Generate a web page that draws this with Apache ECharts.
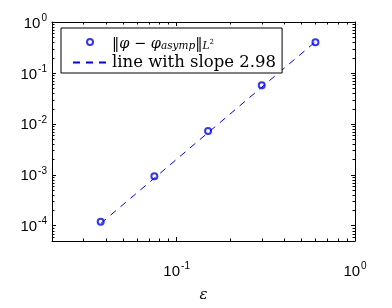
<!DOCTYPE html>
<html><head><meta charset="utf-8">
<script src="https://cdn.jsdelivr.net/npm/echarts@6/dist/echarts.min.js"></script>
<style>html,body{margin:0;padding:0;background:#fff}#c{width:392px;height:308px}</style>
</head><body><div id="c"></div>
<script>
// Data
var epsValues = [0.0375, 0.075, 0.15, 0.3, 0.6];
var errValues = [1.2e-4, 9.3e-4, 7.2e-3, 0.057, 0.40];
var fitX = [0.0375, 0.6];
var fitY = [1.1e-4, 0.41];
var xMinorTicks = [0.03,0.04,0.05,0.06,0.07,0.08,0.09,0.2,0.3,0.4,0.5,0.6,0.7,0.8,0.9];
var yMinorTicks = [6e-5,7e-5,8e-5,9e-5,2e-4,3e-4,4e-4,5e-4,6e-4,7e-4,8e-4,9e-4,2e-3,3e-3,4e-3,5e-3,6e-3,7e-3,8e-3,9e-3,
  0.02,0.03,0.04,0.05,0.06,0.07,0.08,0.09,0.2,0.3,0.4,0.5,0.6,0.7,0.8,0.9];
var legendLabels = {err: '{r|‖}{i|φ}{r| − }{i|φ}{sub|asymp}{r|‖}{sub|L}{sup|2}', fit: '{t|line with slope 2.98}'};

var chart = echarts.init(document.getElementById('c'), null, {renderer: 'canvas'});
var labelFont = "'Liberation Sans Narrow','Arial Narrow','Liberation Sans',Arial,sans-serif";
var serif = "'DejaVu Serif',serif";
function powLabel(v) {
  var e = Math.log10(v);
  var r = Math.round(e);
  if (Math.abs(e - r) > 1e-6) return '';
  return '{b|10}{s|' + r + '}';
}
var rich = {
  b: {fontFamily: labelFont, fontSize: 15, color: '#000', lineHeight: 18, verticalAlign: 'bottom'},
  s: {fontFamily: labelFont, fontSize: 10, color: '#000', lineHeight: 18, verticalAlign: 'top', padding: [0,0,0,1]}
};
var xMin = 0.02, xMax = 1, yMin = 5e-5, yMax = 1;
function baseX(pos, show) {
  return {type: 'log', logBase: 10, min: xMin, max: xMax, position: pos,
    axisLine: {show: true, onZero: false, lineStyle: {color: '#000', width: 1}},
    axisTick: {show: true, inside: true, length: 4, lineStyle: {color: '#000'}},
    axisLabel: {show: show, margin: 20, formatter: powLabel, rich: rich},
    splitLine: {show: false}, minorTick: {show: false}};
}
function baseY(pos, show) {
  return {type: 'log', logBase: 10, min: yMin, max: yMax, position: pos,
    axisLine: {show: true, onZero: false, lineStyle: {color: '#000', width: 1}},
    axisTick: {show: true, inside: true, length: 4, lineStyle: {color: '#000'}},
    axisLabel: {show: show, margin: 5, formatter: powLabel, rich: rich},
    splitLine: {show: false}, minorTick: {show: false}};
}
var xAx0 = baseX('bottom', true);
xAx0.name = 'ε'; xAx0.nameLocation = 'middle'; xAx0.nameGap = 47;
xAx0.nameTextStyle = {fontFamily: serif, fontStyle: 'italic', fontSize: 15, color: '#000'};

function minorTickRender(isX) {
  return function (params, api) {
    var cs = params.coordSys;
    var v = api.value(0);
    var L = 2.5;
    if (isX) {
      var p = api.coord([v, 1e-2]);
      var x = Math.round(p[0]) + 0.5;
      return {type: 'group', children: [
        {type: 'line', shape: {x1: x, y1: cs.y + cs.height, x2: x, y2: cs.y + cs.height - L}, style: {stroke: '#000', lineWidth: 1}},
        {type: 'line', shape: {x1: x, y1: cs.y, x2: x, y2: cs.y + L}, style: {stroke: '#000', lineWidth: 1}}
      ]};
    } else {
      var q = api.coord([0.1, v]);
      var y = Math.round(q[1]) + 0.5;
      return {type: 'group', children: [
        {type: 'line', shape: {x1: cs.x, y1: y, x2: cs.x + L, y2: y}, style: {stroke: '#000', lineWidth: 1}},
        {type: 'line', shape: {x1: cs.x + cs.width, y1: y, x2: cs.x + cs.width - L, y2: y}, style: {stroke: '#000', lineWidth: 1}}
      ]};
    }
  };
}

chart.setOption({
  animation: false,
  backgroundColor: '#fff',
  grid: {left: 52, right: 37, top: 22, bottom: 45, containLabel: false},
  xAxis: [xAx0, baseX('top', false)],
  yAxis: [baseY('left', true), baseY('right', false)],
  legend: {
    orient: 'vertical', left: 61, top: 28,
    data: [{name: 'err'}, {name: 'fit', itemStyle: {color: 'rgba(0,0,0,0)', borderColor: 'rgba(0,0,0,0)', borderWidth: 0, opacity: 0}}],
    itemWidth: 34, itemHeight: 6, itemGap: 2,
    padding: [9, 6, 2, 11],
    borderColor: '#000', borderWidth: 1, backgroundColor: '#fff',
    formatter: function (n) { return legendLabels[n]; },
    textStyle: {
      color: '#000',
      rich: {
        r: {fontFamily: serif, fontSize: 14.5, color: '#000', lineHeight: 20, verticalAlign: 'bottom'},
        i: {fontFamily: serif, fontStyle: 'italic', fontSize: 14.5, color: '#000', lineHeight: 20, verticalAlign: 'bottom'},
        sub: {fontFamily: serif, fontStyle: 'italic', fontSize: 10.5, color: '#000', lineHeight: 18, verticalAlign: 'bottom'},
        sup: {fontFamily: serif, fontSize: 7, color: '#000', lineHeight: 20, verticalAlign: 'middle'},
        t: {fontFamily: serif, fontSize: 16.5, color: '#000', lineHeight: 20}
      }
    }
  },
  series: [
    {name: 'fit', type: 'line', data: fitX.map(function (x, i) { return [x, fitY[i]]; }),
      symbol: 'none', showSymbol: false, z: 2,
      lineStyle: {color: '#0000ff', width: 1, type: [7, 6]}, itemStyle: {color: '#0000ff'}},
    {name: 'err', type: 'scatter', data: epsValues.map(function (x, i) { return [x, errValues[i]]; }),
      symbol: 'circle', symbolSize: 6, z: 3,
      itemStyle: {color: 'rgba(0,0,0,0)', borderColor: '#0000ff', borderWidth: 2}},
    {name: 'xminor', type: 'custom', silent: true, data: xMinorTicks.map(function (v) { return [v]; }),
      encode: {x: 0}, renderItem: minorTickRender(true), clip: false, z: 1},
    {name: 'yminor', type: 'custom', silent: true, data: yMinorTicks.map(function (v) { return [v]; }),
      encode: {y: 0}, renderItem: minorTickRender(false), clip: false, z: 1}
  ]
});
</script></body></html>
